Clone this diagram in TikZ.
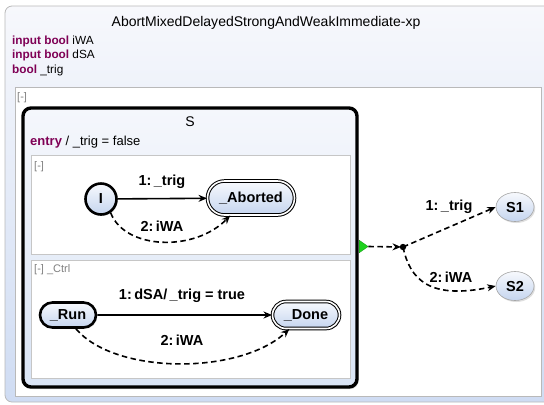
\documentclass[tikz,border=0pt]{standalone}
\usepackage{fontspec}
\setmainfont{Liberation Sans}
\usetikzlibrary{arrows.meta,shadows,shapes.misc,shapes.geometric}
\definecolor{kw}{HTML}{7F0055}
\definecolor{frameTop}{HTML}{F7F8FC}
\definecolor{frameBot}{HTML}{CFDCF3}
\definecolor{stTop}{HTML}{F7F9FD}
\definecolor{stBot}{HTML}{C5D5EF}
\definecolor{supTop}{HTML}{F5F7FC}
\definecolor{supBot}{HTML}{D9E4F5}
\definecolor{lbl}{HTML}{808080}
\tikzset{
  statebox/.style={rounded rectangle, top color=stTop, bottom color=stBot,
    font=\fontsize{14.5bp}{16bp}\selectfont\bfseries, inner sep=0pt,
    drop shadow={opacity=0.25, shadow xshift=1.2bp, shadow yshift=-1.5bp}},
  initst/.style={statebox, draw=black, line width=2.6bp},
  finalst/.style={statebox, draw=black, line width=1bp, double=white, double distance=1.6bp},
  plainst/.style={statebox, draw=gray!70, line width=0.6bp},
  trans/.style={line width=1.6bp, -{Stealth[length=8.5bp,width=7bp]}},
  wtrans/.style={trans, dash pattern=on 5.5bp off 3.5bp},
  elabel/.style={font=\fontsize{14.5bp}{16bp}\selectfont\bfseries, inner sep=0pt},
  regionbox/.style={draw=gray!45, fill=white, line width=0.8bp},
  regname/.style={font=\fontsize{11bp}{13bp}\selectfont, text=lbl, anchor=west, inner sep=0pt},
  decl/.style={font=\fontsize{11.8bp}{13bp}\selectfont, anchor=west, inner sep=0pt},
}
\begin{document}
\begin{tikzpicture}[x=1bp,y=-1bp]
\useasboundingbox (0,0) rectangle (544,404);
\begin{scope}
\clip (0,0) rectangle (544,404);
% outer frame
\path[draw=gray!55, line width=0.8bp, top color=frameTop, bottom color=frameBot, rounded corners=7bp]
  (5,6) rectangle (570,402);
\node[font=\fontsize{14bp}{16bp}\selectfont, inner sep=0pt] (title) at (266,23) {AbortMixedDelayedStrongAndWeakImmediate-xp};
\node[decl] (d1) at (12,41) {\textcolor{kw}{\bfseries input bool} iWA};
\node[decl] (d2) at (12,55.5) {\textcolor{kw}{\bfseries input bool} dSA};
\node[decl] (d3) at (12,70) {\textcolor{kw}{\bfseries bool} \_trig};
% inner region
\path[regionbox, draw=gray!55] (15,87) rectangle (541,396);
\node[regname] (r0) at (17,98) {[-]};
% superstate S
\path[draw=black, line width=3.4bp, rounded corners=8bp, top color=supTop, bottom color=supBot,
  drop shadow={opacity=0.3, shadow xshift=1.5bp, shadow yshift=-2bp}]
  (23,108) rectangle (357,387);
\node[font=\fontsize{14bp}{16bp}\selectfont, inner sep=0pt] (Slbl) at (190,122) {S};
\node[font=\fontsize{13bp}{15bp}\selectfont, anchor=west, inner sep=0pt] (entry) at (30,142)
  {\textcolor{kw}{\bfseries entry} / \_trig = false};
\path[regionbox] (31,155) rectangle (350,254);
\path[regionbox] (31,260) rectangle (350,378);
\node[regname] (r1) at (34,167) {[-]};
\node[regname] (r2) at (34,270) {[-] \_Ctrl};
% states region 1
\node[initst, circle, minimum size=31bp] (I) at (101,199) {I};
\node[finalst, minimum width=87bp, minimum height=34bp] (Ab) at (251,198) {\_Aborted};
\draw[trans] (I) -- (Ab);
\node[elabel] (l1) at (162,182) {1:\,\_trig};
\draw[wtrans] (I.-55) .. controls (125,250) and (195,252) .. (Ab.-140);
\node[elabel] (l2) at (162,226) {2:\,iWA};
% states region 2
\node[initst, minimum width=56bp, minimum height=25bp] (Run) at (68,315) {\_Run};
\node[finalst, minimum width=67bp, minimum height=27bp] (Done) at (306,315) {\_Done};
\draw[trans] (Run) -- (Done);
\node[elabel] (l3) at (182,296) {1:\,dSA/\,\_trig = true};
\draw[wtrans] (Run.-60) .. controls (115,375) and (240,375) .. (Done.-140);
\node[elabel] (l4) at (182,340) {2:\,iWA};
% right part
\node[isosceles triangle, isosceles triangle apex angle=70, fill={rgb,255:red,30;green,210;blue,30}, draw={rgb,255:red,20;green,150;blue,20}, line width=0.3bp,
  minimum height=9bp, minimum width=10bp, inner sep=0pt, anchor=west] (tri) at (359,246.5) {};
\coordinate (J) at (403,247);
\fill (J) circle (3.2bp);
\node[plainst, ellipse, minimum width=38bp, minimum height=29bp] (S1) at (515,207) {S1};
\node[plainst, ellipse, minimum width=38bp, minimum height=29bp] (S2) at (515,286) {S2};
\draw[wtrans, shorten >=2bp] (tri.apex) -- (J);
\draw[wtrans] (J) -- (S1.west);
\draw[wtrans] (J) .. controls (410,280) and (430,300) .. (S2.west);
\node[elabel] (l5) at (449,207) {1:\,\_trig};
\node[elabel] (l6) at (451,277) {2:\,iWA};
\end{scope}
\end{tikzpicture}
\end{document}
